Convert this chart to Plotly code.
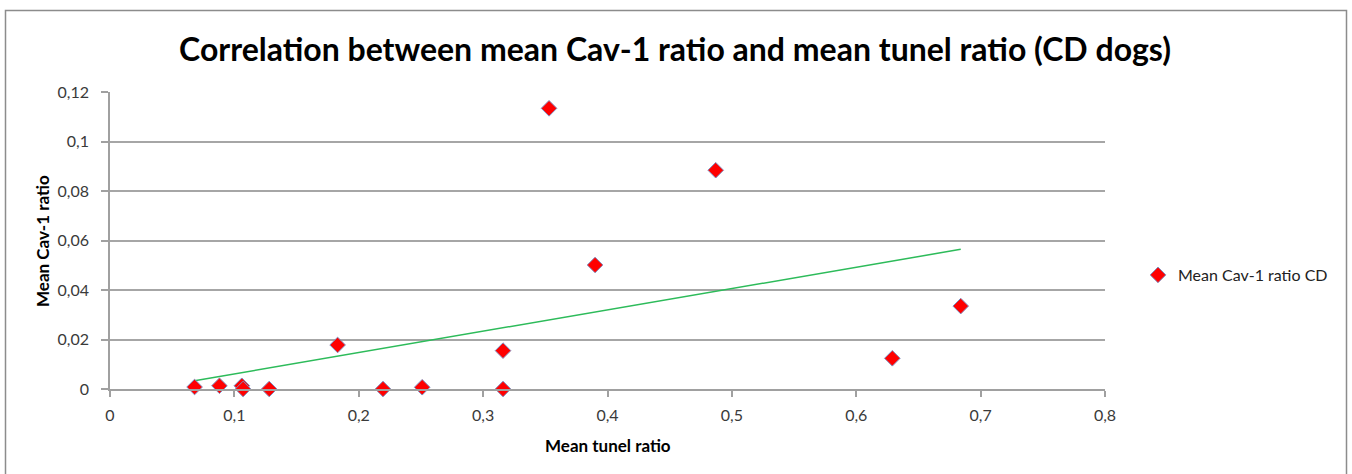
import numpy as np
import plotly.graph_objects as go

# Mean tunel ratio vs mean Cav-1 ratio for the CD dogs
tunel_ratio = [0.068, 0.088, 0.106, 0.107, 0.128, 0.183, 0.2195, 0.251,
               0.316, 0.316, 0.353, 0.390, 0.487, 0.629, 0.684]
cav1_ratio = [0.0008, 0.0013, 0.0013, 0.0, 0.0, 0.0178, 0.0, 0.0007,
              0.0155, 0.0, 0.1134, 0.0501, 0.0884, 0.0124, 0.0335]

series_name = "Mean Cav-1 ratio CD"
title_text = "Correlation between mean Cav-1 ratio and mean tunel ratio (CD dogs)"
x_title = "Mean tunel ratio"
y_title = "Mean Cav-1 ratio"

# Least-squares linear trendline over the data range
slope, intercept = np.polyfit(tunel_ratio, cav1_ratio, 1)
trend_x = np.array([min(tunel_ratio), max(tunel_ratio)])
trend_y = slope * trend_x + intercept

FONT = "Lato, 'Open Sans', sans-serif"
W, H = 1352, 474
L, R, T, B = 110, 247, 92, 85
pw, ph = W - L - R, H - T - B


def px_x(p):
    return (p - L) / pw


def px_y(p):
    return (H - B - p) / ph


fig = go.Figure()
fig.add_trace(go.Scatter(
    x=trend_x, y=trend_y, mode="lines",
    line=dict(color="#2dbb5a", width=1.5),
    showlegend=False, hoverinfo="skip", cliponaxis=False,
))
fig.add_trace(go.Scatter(
    x=tunel_ratio, y=cav1_ratio, mode="markers", name=series_name,
    marker=dict(symbol="diamond", size=12, color="#ff0000",
                line=dict(color="#7f8fbf", width=1)),
    cliponaxis=False,
))

fig.update_layout(
    width=W, height=H,
    margin=dict(l=L, r=R, t=T, b=B),
    paper_bgcolor="white", plot_bgcolor="white",
    separators=", ",
    font=dict(family=FONT, size=15, color="#3a3a3a"),
    title=dict(text=f"<b>{title_text}</b>", xref="container", yref="container",
               x=675 / W, y=1 - 50 / H, xanchor="center", yanchor="middle",
               font=dict(family=FONT, size=32, color="#000000")),
    xaxis=dict(range=[0, 0.8], dtick=0.1, tick0=0, showgrid=False,
               zeroline=False, showline=True, linecolor="#a0a0a0", linewidth=1.5,
               ticks="outside", ticklen=6, tickcolor="#a0a0a0", tickwidth=1.5,
               ticklabelstandoff=5,
               tickfont=dict(size=16, color="#3a3a3a")),
    yaxis=dict(range=[0, 0.12], dtick=0.02, tick0=0, showgrid=True,
               gridcolor="#a6a6a6", gridwidth=1.5, zeroline=False,
               showline=True, linecolor="#a0a0a0", linewidth=1.5,
               ticks="outside", ticklen=7, tickcolor="#a0a0a0", tickwidth=1.5,
               ticklabelstandoff=9,
               tickfont=dict(size=16, color="#3a3a3a")),
    legend=dict(x=px_x(1138), y=px_y(275), xanchor="left", yanchor="middle",
                font=dict(size=16, color="#222222"), bgcolor="rgba(0,0,0,0)",
                itemwidth=30),
    annotations=[
        dict(text=f"<b>{x_title}</b>", xref="paper", yref="paper",
             x=px_x(608), y=px_y(445), showarrow=False,
             xanchor="center", yanchor="middle",
             font=dict(size=17, color="#000000")),
        dict(text=f"<b>{y_title}</b>", xref="paper", yref="paper",
             x=px_x(42), y=px_y(241), showarrow=False, textangle=-90,
             xanchor="center", yanchor="middle",
             font=dict(size=17, color="#000000")),
    ],
    shapes=[
        dict(type="rect", xref="paper", yref="paper",
             x0=px_x(5.5), x1=px_x(1346.5), y0=px_y(490), y1=px_y(10.5),
             line=dict(color="#8c8c8c", width=1.5), layer="below"),
    ],
)

fig.write_html("out.html")
